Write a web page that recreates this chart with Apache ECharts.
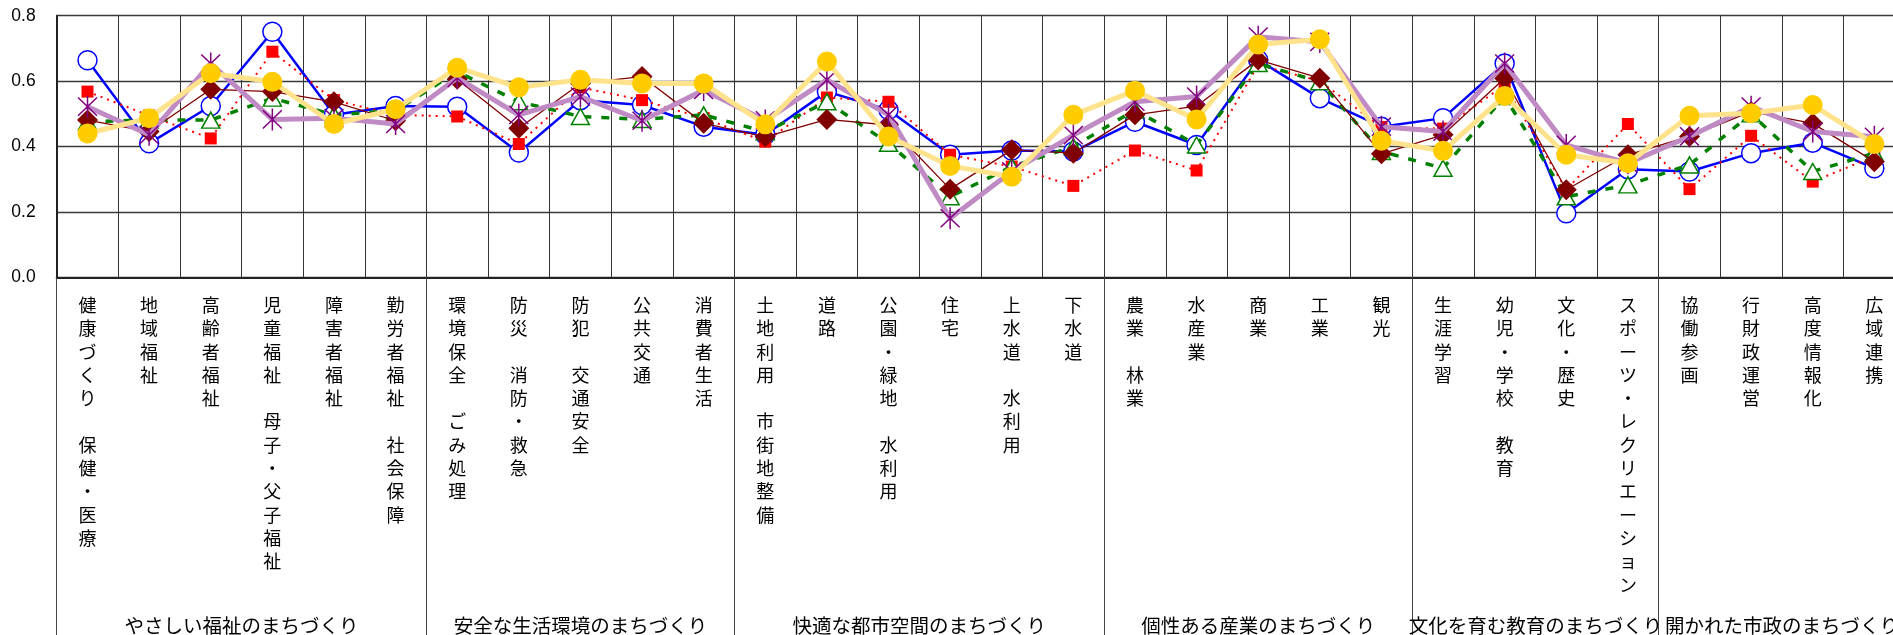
<!DOCTYPE html>
<html>
<head>
<meta charset="utf-8">
<script src="https://cdn.jsdelivr.net/npm/echarts@6/dist/echarts.min.js"></script>
<style>
html,body{margin:0;padding:0;background:#fff;}
#chart{width:1893px;height:635px;}
</style>
</head>
<body>
<div id="chart"></div>
<script>
// ---- data ----
const categories = [
  '健康づくり　保健・医療', '地域福祉', '高齢者福祉', '児童福祉　母子・父子福祉', '障害者福祉', '勤労者福祉　社会保障',
  '環境保全　ごみ処理', '防災　消防・救急', '防犯　交通安全', '公共交通', '消費者生活',
  '土地利用　市街地整備', '道路', '公園・緑地　水利用', '住宅', '上水道　水利用', '下水道',
  '農業　林業', '水産業', '商業', '工業', '観光',
  '生涯学習', '幼児・学校　教育', '文化・歴史', 'スポーツ・レクリエーション',
  '協働参画', '行財政運営', '高度情報化', '広域連携'
];
const groupNames = ['やさしい福祉のまちづくり', '安全な生活環境のまちづくり', '快適な都市空間のまちづくり',
  '個性ある産業のまちづくり', '文化を育む教育のまちづくり', '開かれた市政のまちづくり'];
const groupSizes = [6, 5, 6, 5, 4, 4];
const yTicks = [0, 0.2, 0.4, 0.6, 0.8];

const seriesBlue   = [0.664, 0.410, 0.524, 0.751, 0.497, 0.524, 0.522, 0.382, 0.542, 0.527, 0.461, 0.436, 0.568, 0.512, 0.375, 0.388, 0.385, 0.476, 0.405, 0.665, 0.548, 0.461, 0.487, 0.654, 0.196, 0.331, 0.324, 0.380, 0.412, 0.334];
const seriesRed    = [0.568, 0.495, 0.425, 0.690, 0.542, 0.497, 0.492, 0.408, 0.581, 0.542, 0.487, 0.415, 0.550, 0.537, 0.375, 0.339, 0.280, 0.388, 0.327, 0.650, 0.600, 0.460, 0.455, 0.588, 0.268, 0.469, 0.270, 0.433, 0.293, 0.370];
const seriesGreen  = [0.476, 0.481, 0.481, 0.548, 0.497, 0.510, 0.629, 0.537, 0.492, 0.483, 0.497, 0.445, 0.537, 0.410, 0.247, 0.339, 0.400, 0.512, 0.405, 0.654, 0.598, 0.385, 0.334, 0.553, 0.247, 0.283, 0.344, 0.500, 0.324, 0.380];
const seriesDark   = [0.481, 0.446, 0.575, 0.568, 0.537, 0.479, 0.606, 0.456, 0.593, 0.614, 0.471, 0.430, 0.483, 0.466, 0.270, 0.390, 0.380, 0.497, 0.524, 0.665, 0.609, 0.378, 0.436, 0.609, 0.268, 0.375, 0.431, 0.507, 0.471, 0.354];
const seriesPurple = [0.522, 0.436, 0.654, 0.483, 0.487, 0.469, 0.610, 0.497, 0.553, 0.479, 0.573, 0.480, 0.604, 0.497, 0.181, 0.324, 0.435, 0.537, 0.553, 0.736, 0.720, 0.461, 0.446, 0.654, 0.405, 0.349, 0.431, 0.522, 0.446, 0.430];
const seriesYellow = [0.440, 0.487, 0.624, 0.598, 0.469, 0.514, 0.641, 0.581, 0.604, 0.593, 0.593, 0.468, 0.660, 0.431, 0.341, 0.308, 0.497, 0.571, 0.483, 0.712, 0.728, 0.418, 0.387, 0.555, 0.375, 0.349, 0.494, 0.502, 0.527, 0.408];

// ---- derived helpers ----
const groupStarts = [];
const groupCenters = {};
(function(){
  let s = 0;
  groupSizes.forEach((n, i) => {
    groupStarts.push(s);
    groupCenters[(s + n / 2).toFixed(1)] = groupNames[i];
    s += n;
  });
})();

const N = categories.length;
const catW = 61.615;
const asterisk = 'path://M9.3,0 L10.7,0 L10.7,22 L9.3,22 Z M0.6,2.4 L1.6,1.4 L19.4,19.6 L18.4,20.6 Z M18.4,1.4 L19.4,2.4 L1.6,20.6 L0.6,19.6 Z';
const JP = '"Noto Sans CJK JP", "Noto Sans CJK SC", sans-serif';

const chart = echarts.init(document.getElementById('chart'), null, {renderer: 'canvas'});
chart.setOption({
  animation: false,
  backgroundColor: '#fff',
  grid: {
    left: 56.7, top: 15.7, width: catW * N, height: 261.8,
    containLabel: false, outerBoundsMode: 'none'
  },
  xAxis: [{
    type: 'category',
    data: categories,
    boundaryGap: true,
    axisLine: {show: true, lineStyle: {color: '#222', width: 2}},
    axisTick: {
      show: true,
      interval: (idx) => groupStarts.indexOf(idx) >= 0,
      length: 370,
      lineStyle: {color: '#444', width: 1}
    },
    axisLabel: {
      interval: 0,
      margin: 16,
      color: '#000',
      fontSize: 18,
      lineHeight: 23.3,
      fontFamily: JP,
      formatter: (v) => v.split('').join('\n')
    },
    splitLine: {show: true, interval: 0, lineStyle: {color: '#333', width: 1}}
  }, {
    type: 'value',
    min: 0, max: N, interval: 0.5,
    position: 'bottom',
    axisLine: {show: false},
    axisTick: {show: false},
    splitLine: {show: false},
    axisLabel: {
      margin: 338,
      color: '#000',
      fontSize: 19.5,
      fontFamily: JP,
      showMinLabel: true, showMaxLabel: true,
      formatter: (v) => groupCenters[Number(v).toFixed(1)] || ''
    }
  }],
  yAxis: {
    type: 'value',
    min: 0, max: 0.8, interval: 0.2,
    axisLine: {show: true, lineStyle: {color: '#222', width: 2}},
    axisTick: {show: false},
    axisLabel: {
      margin: 21, color: '#000', fontSize: 17.5,
      fontFamily: '"Liberation Sans", Arial, sans-serif',
      formatter: (v) => v.toFixed(1)
    },
    splitLine: {show: true, lineStyle: {color: '#3a3a3a', width: 1.3}}
  },
  series: [{
    name: 'blue', type: 'line', data: seriesBlue, z: 2,
    lineStyle: {color: '#0000ff', width: 2.5},
    symbol: 'circle', symbolSize: 19,
    itemStyle: {color: '#ffffff', borderColor: '#0000ff', borderWidth: 1.5}
  }, {
    name: 'red', type: 'line', data: seriesRed, z: 3,
    lineStyle: {color: '#ff0000', width: 2, type: [2, 5]},
    symbol: 'rect', symbolSize: 12,
    itemStyle: {color: '#ff0000'}
  }, {
    name: 'green', type: 'line', data: seriesGreen, z: 4,
    lineStyle: {color: '#008000', width: 3.5, type: [8, 10]},
    symbol: 'triangle', symbolSize: [18, 16],
    itemStyle: {color: '#ffffff', borderColor: '#008000', borderWidth: 1.5}
  }, {
    name: 'darkred', type: 'line', data: seriesDark, z: 5,
    lineStyle: {color: '#800000', width: 1.3},
    symbol: 'diamond', symbolSize: [21, 21],
    itemStyle: {color: '#800000'}
  }, {
    name: 'purple', type: 'line', data: seriesPurple, z: 6,
    lineStyle: {color: '#c08ac4', width: 5},
    symbol: asterisk, symbolSize: [20, 22],
    itemStyle: {color: '#800080'}
  }, {
    name: 'yellow', type: 'line', data: seriesYellow, z: 7,
    lineStyle: {color: '#ffe38c', width: 5},
    symbol: 'circle', symbolSize: 20,
    itemStyle: {color: '#ffcc00'}
  }]
});
</script>
</body>
</html>
